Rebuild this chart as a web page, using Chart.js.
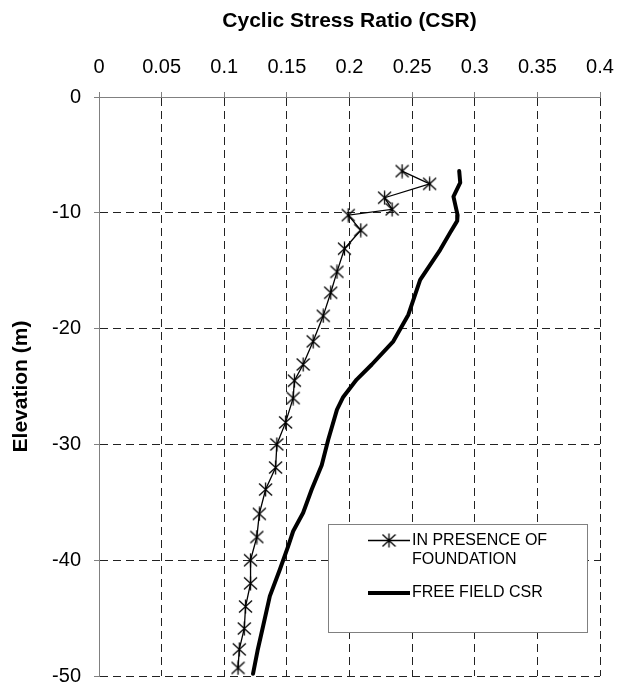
<!DOCTYPE html>
<html>
<head>
<meta charset="utf-8">
<title>Cyclic Stress Ratio</title>
<script src="https://cdn.jsdelivr.net/npm/chart.js@4.4.1/dist/chart.umd.min.js"></script>
<style>
  html, body { margin: 0; padding: 0; background: #fff; }
  #wrap { width: 626px; height: 687px; }
</style>
</head>
<body>
<div id="wrap"><canvas id="myChart" width="626" height="687"></canvas></div>
<script>
// CSR profiles vs elevation
const foundationCsr = [0.242, 0.264, 0.228, 0.234, 0.199, 0.209, 0.196, 0.190, 0.185, 0.179, 0.171, 0.163, 0.156,
  0.155, 0.149, 0.142, 0.141, 0.133, 0.128, 0.126, 0.121, 0.121, 0.117, 0.116, 0.112, 0.111];
const foundationElev = [-6.4, -7.5, -8.7, -9.7, -10.2, -11.5, -13.1, -15.1, -16.9, -18.9, -21.1, -23.1, -24.5,
  -26.0, -28.1, -30.0, -32.0, -33.9, -36.0, -38.0, -40.0, -42.0, -44.0, -45.9, -47.7, -49.3];

const freeFieldCsr = [0.2876, 0.2884, 0.2830, 0.2863, 0.2860, 0.2804, 0.2724, 0.2564, 0.2470, 0.2350, 0.2178,
  0.2057, 0.1950, 0.1900, 0.1830, 0.1778, 0.1698, 0.1630, 0.1550, 0.1510, 0.1444, 0.1364, 0.1310, 0.1266, 0.1230];
const freeFieldElev = [-6.4, -7.4, -8.6, -10.2, -10.7, -11.7, -13.2, -15.8, -18.8, -21.1, -23.1, -24.4, -25.9,
  -27.0, -29.6, -31.8, -33.9, -35.9, -37.5, -38.8, -40.8, -43.1, -45.7, -47.8, -49.8];

const xTicks = [0, 0.05, 0.1, 0.15, 0.2, 0.25, 0.3, 0.35, 0.4];
const xTickLabels = ['0', '0.05', '0.1', '0.15', '0.2', '0.25', '0.3', '0.35', '0.4'];
const yTicks = [-50, -40, -30, -20, -10, 0];
const yTickLabels = ['-50', '-40', '-30', '-20', '-10', '0'];

const seriesNames = ['IN PRESENCE OF\nFOUNDATION', 'FREE FIELD CSR'];

const FONT = '"Liberation Sans", Arial, sans-serif';

// asterisk marker (X with a vertical stroke)
function asterisk() {
  const c = document.createElement('canvas');
  c.width = 15;
  c.height = 15;
  const g = c.getContext('2d');
  g.strokeStyle = '#000';
  g.lineWidth = 1.3;
  g.beginPath();
  g.moveTo(1, 1.5); g.lineTo(14, 13.5);
  g.moveTo(14, 1.5); g.lineTo(1, 13.5);
  g.moveTo(7.5, 0.5); g.lineTo(7.5, 14.5);
  g.stroke();
  return c;
}
const marker = asterisk();

const toPoints = (xs, ys) => xs.map((x, i) => ({ x: x, y: ys[i] }));

// legend box drawn inside the plot
const boxLegend = {
  id: 'boxLegend',
  afterDraw(chart) {
    const ctx = chart.ctx;
    ctx.save();
    ctx.fillStyle = '#fff';
    ctx.fillRect(328, 524, 259, 108);
    ctx.strokeStyle = '#808080';
    ctx.lineWidth = 1;
    ctx.strokeRect(328.5, 524.5, 259, 108);

    ctx.strokeStyle = '#000';
    ctx.lineWidth = 1.3;
    ctx.beginPath();
    ctx.moveTo(368, 540.5);
    ctx.lineTo(410, 540.5);
    ctx.stroke();
    ctx.drawImage(marker, 389 - 7.5, 540.5 - 7.5);

    ctx.lineWidth = 4;
    ctx.beginPath();
    ctx.moveTo(368, 593);
    ctx.lineTo(410, 593);
    ctx.stroke();

    ctx.fillStyle = '#000';
    ctx.font = '16px ' + FONT;
    ctx.textBaseline = 'middle';
    const lines = seriesNames[0].split('\n');
    ctx.fillText(lines[0], 412, 541);
    ctx.fillText(lines[1], 412, 560);
    ctx.fillText(seriesNames[1], 412, 593);
    ctx.restore();
  }
};

const ctx = document.getElementById('myChart').getContext('2d');

window.myChartInstance = new Chart(ctx, {
  type: 'scatter',
  data: {
    datasets: [{
      label: seriesNames[0],
      data: toPoints(foundationCsr, foundationElev),
      showLine: true,
      borderColor: '#000',
      borderWidth: 1.3,
      pointStyle: marker,
      pointRadius: 7,
      tension: 0
    }, {
      label: seriesNames[1],
      data: toPoints(freeFieldCsr, freeFieldElev),
      showLine: true,
      borderColor: '#000',
      borderWidth: 4,
      borderCapStyle: 'round',
      borderJoinStyle: 'round',
      pointRadius: 0,
      tension: 0
    }]
  },
  options: {
    responsive: false,
    animation: false,
    devicePixelRatio: 1,
    layout: { padding: { left: 0, top: 0, right: 26, bottom: 11 } },
    plugins: {
      legend: { display: false },
      tooltip: { enabled: false }
    },
    scales: {
      x: {
        type: 'linear',
        position: 'top',
        min: 0,
        max: 0.4,
        afterBuildTicks: (scale) => { scale.ticks = xTicks.map(v => ({ value: v })); },
        afterFit: (scale) => {
          scale.height = 97;
          scale.paddingLeft = 0;
          scale.paddingRight = 0;
        },
        ticks: {
          callback: (value, index) => xTickLabels[index],
          color: '#000',
          font: { family: FONT, size: 20 },
          padding: 13,
          maxRotation: 0,
          autoSkip: false
        },
        grid: { color: '#222', lineWidth: 1, tickLength: 5, tickColor: '#808080' },
        border: { display: true, color: '#808080', width: 1, dash: [8, 5] },
        title: {
          display: true,
          text: 'Cyclic Stress Ratio (CSR)',
          color: '#000',
          font: { family: FONT, size: 21, weight: 'bold' },
          padding: { top: 9, bottom: 0 }
        }
      },
      y: {
        type: 'linear',
        min: -50,
        max: 0,
        afterBuildTicks: (scale) => { scale.ticks = yTicks.map(v => ({ value: v })); },
        afterFit: (scale) => {
          scale.width = 99;
          scale.paddingTop = 0;
          scale.paddingBottom = 0;
        },
        ticks: {
          callback: (value, index) => yTickLabels[index],
          color: '#000',
          font: { family: FONT, size: 20 },
          padding: 13,
          autoSkip: false
        },
        grid: { color: '#222', lineWidth: 1, tickLength: 5, tickColor: '#808080' },
        border: { display: true, color: '#808080', width: 1, dash: [8, 5] },
        title: {
          display: true,
          text: 'Elevation (m)',
          color: '#000',
          font: { family: FONT, size: 21, weight: 'bold' },
          padding: { top: 9, bottom: 0 }
        }
      }
    }
  },
  plugins: [boxLegend]
});
</script>
</body>
</html>
